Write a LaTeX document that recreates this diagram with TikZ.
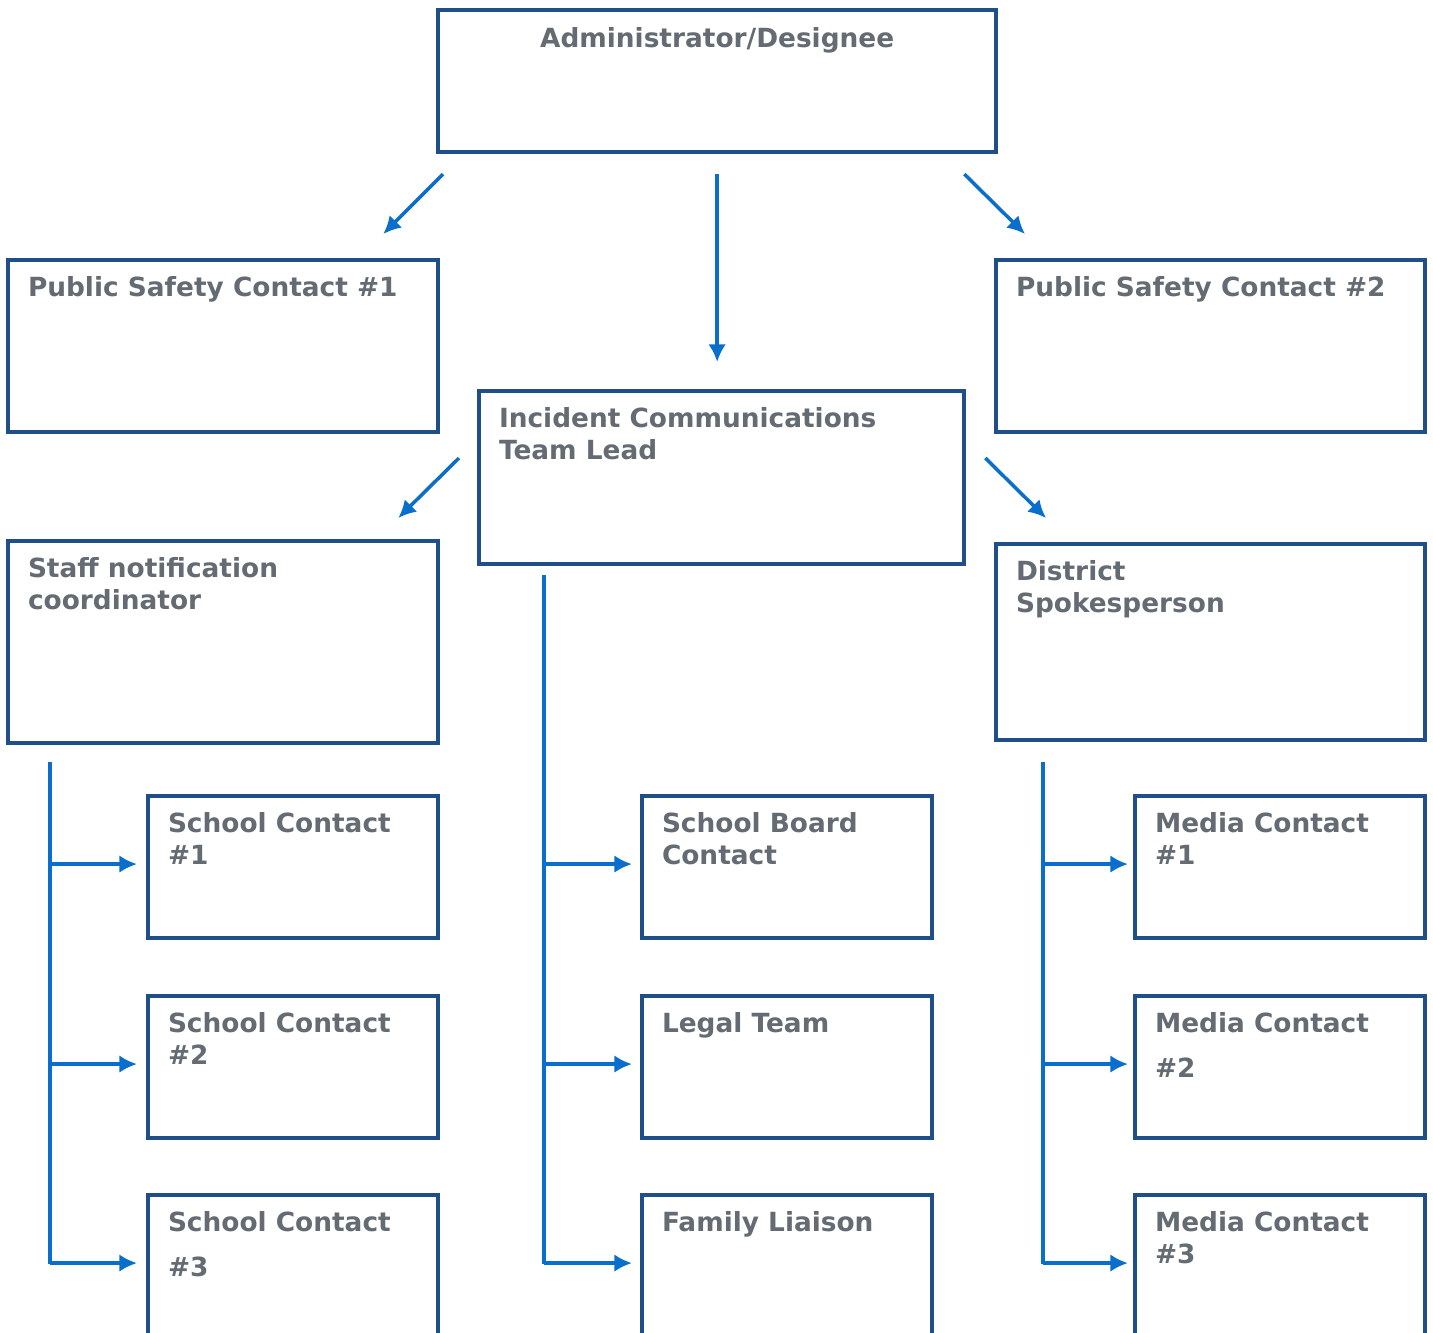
\documentclass[tikz,border=0pt]{standalone}
\usepackage{fontspec}
\setmainfont{DejaVu Sans}
\usepackage{tikz}
\usetikzlibrary{arrows.meta,positioning,calc}
\usepackage{xcolor}
\definecolor{PlanNavy}{HTML}{1F4E89}
\definecolor{PlanBlue}{HTML}{0A6FCC}
\definecolor{PlanGray}{HTML}{646B73}

\begin{document}
\begin{tikzpicture}[x=0.01cm,y=-0.01cm,
    box/.style={draw=PlanNavy,line width=1.15pt,anchor=north west,inner sep=0pt,outer sep=0pt},
    lbl/.style={anchor=north west,inner sep=0pt,outer sep=0pt,align=left,text=PlanGray,font=\fontsize{7.5pt}{9.1pt}\selectfont\bfseries},
    arr/.style={-{Latex[length=5pt,width=5pt]},PlanBlue,line width=1pt},
    trunk/.style={PlanBlue,line width=1pt}]
    \clip (0,0) rectangle (1433,1332);
    % top level
    \node[box,minimum width=5.58cm,minimum height=1.42cm] (admin) at (438,10) {};
    \node[lbl,anchor=north] (adminT) at ([shift={(0,17)}]admin.north) {Administrator/Designee};
    \node[box,minimum width=4.30cm,minimum height=1.72cm] (psc1) at (8,260) {};
    \node[box,minimum width=4.29cm,minimum height=1.72cm] (psc2) at (996,260) {};
    \node[box,minimum width=4.85cm,minimum height=1.73cm] (ictl) at (479,391) {};
    \node[box,minimum width=4.30cm,minimum height=2.02cm] (staff) at (8,541) {};
    \node[box,minimum width=4.29cm,minimum height=1.96cm] (district) at (996,544) {};
    \node[lbl] (psc1T) at ([shift={(20,16)}]psc1.north west) {Public Safety Contact \#1};
    \node[lbl] (psc2T) at ([shift={(20,16)}]psc2.north west) {Public Safety Contact \#2};
    \node[lbl] (ictlT) at ([shift={(20,16)}]ictl.north west) {Incident Communications\\Team Lead};
    \node[lbl] (staffT) at ([shift={(20,16)}]staff.north west) {Staff notification\\coordinator};
    \node[lbl] (districtT) at ([shift={(20,16)}]district.north west) {District\\Spokesperson};
    % bottom rows
    \node[box,minimum width=2.90cm,minimum height=1.42cm] (sc1) at (148,796) {};
    \node[box,minimum width=2.90cm,minimum height=1.42cm] (sc2) at (148,996) {};
    \node[box,minimum width=2.90cm,minimum height=1.42cm] (sc3) at (148,1195) {};
    \node[box,minimum width=2.90cm,minimum height=1.42cm] (board) at (642,796) {};
    \node[box,minimum width=2.90cm,minimum height=1.42cm] (legal) at (642,996) {};
    \node[box,minimum width=2.90cm,minimum height=1.42cm] (family) at (642,1195) {};
    \node[box,minimum width=2.90cm,minimum height=1.42cm] (mc1) at (1135,796) {};
    \node[box,minimum width=2.90cm,minimum height=1.42cm] (mc2) at (1135,996) {};
    \node[box,minimum width=2.90cm,minimum height=1.42cm] (mc3) at (1135,1195) {};
    \node[lbl] (sc1T) at ([shift={(20,16)}]sc1.north west) {School Contact\\\#1};
    \node[lbl] (sc2T) at ([shift={(20,16)}]sc2.north west) {School Contact\\\#2};
    \node[lbl] (sc3T) at ([shift={(20,16)}]sc3.north west) {School Contact\\[3.7pt]\#3};
    \node[lbl] (boardT) at ([shift={(20,16)}]board.north west) {School Board\\Contact};
    \node[lbl] (legalT) at ([shift={(20,16)}]legal.north west) {Legal Team};
    \node[lbl] (familyT) at ([shift={(20,16)}]family.north west) {Family Liaison};
    \node[lbl] (mc1T) at ([shift={(20,16)}]mc1.north west) {Media Contact\\\#1};
    \node[lbl] (mc2T) at ([shift={(20,16)}]mc2.north west) {Media Contact\\[3.7pt]\#2};
    \node[lbl] (mc3T) at ([shift={(20,16)}]mc3.north west) {Media Contact\\\#3};
    % arrows between levels
    \draw[arr] ([shift={(5,22)}]admin.south west) -- ([shift={(-55,-26)}]psc1.north east);
    \draw[arr] ([shift={(0,22)}]admin.south) -- ($(admin.south |- ictl.north)+(0,-29)$);
    \draw[arr] ([shift={(-32,22)}]admin.south east) -- ([shift={(29,-26)}]psc2.north west);
    \draw[arr] ([shift={(-20,67)}]ictl.north west) -- ([shift={(-40,-23)}]staff.north east);
    \draw[arr] ([shift={(21,67)}]ictl.north east) -- ([shift={(50,-26)}]district.north west);
    % trunks
    \coordinate (tL) at ([shift={(42,19)}]staff.south west);
    \coordinate (tM) at ([shift={(65,11)}]ictl.south west);
    \coordinate (tR) at ([shift={(47,22)}]district.south west);
    \draw[trunk] (tL) -- ($(tL |- sc3.west)+(0,-2)$);
    \draw[trunk] (tM) -- ($(tM |- family.west)+(0,-2)$);
    \draw[trunk] (tR) -- ($(tR |- mc3.west)+(0,-2)$);
    \foreach \b in {sc1,sc2,sc3}{\draw[arr] ($(tL |- \b.west)+(0,-3)$) -- ([shift={(-11,-3)}]\b.west);}
    \foreach \b in {board,legal,family}{\draw[arr] ($(tM |- \b.west)+(0,-3)$) -- ([shift={(-10,-3)}]\b.west);}
    \foreach \b in {mc1,mc2,mc3}{\draw[arr] ($(tR |- \b.west)+(0,-3)$) -- ([shift={(-7,-3)}]\b.west);}
\end{tikzpicture}
\end{document}
